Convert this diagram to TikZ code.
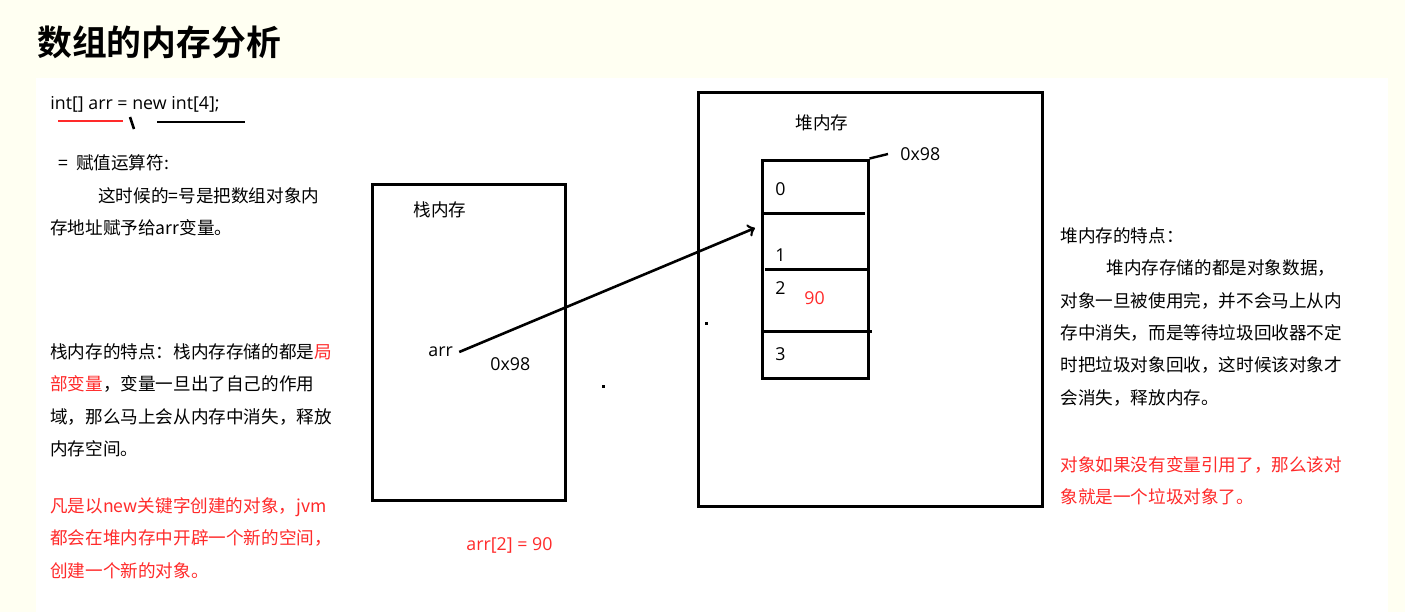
\documentclass[tikz,border=0pt]{standalone}
\usepackage{xcolor}
\usepackage{fontspec}
\setmainfont{Noto Sans CJK SC}[BoldFont={Noto Sans CJK SC Bold}]
\newfontfamily\latinfont{Open Sans}
\usetikzlibrary{arrows, positioning}
\definecolor{pagecream}{HTML}{FFFFF2}
\definecolor{notered}{HTML}{FF2A2A}
\tikzstyle{arrow}   = [line width=1.3pt,->,>=to]
\tikzstyle{membox}  = [draw, line width=1.5pt, inner sep=0pt]
\tikzstyle{divider} = [line width=1.5pt]
\tikzstyle{txt}     = [anchor=north west, inner sep=0pt, align=left, font=\fontsize{8.8}{16.2}\selectfont]
\tikzstyle{lbl}     = [anchor=west, inner sep=0pt, font=\fontsize{8.8}{10}\selectfont]
\tikzstyle{code}    = [anchor=west, inner sep=0pt, font=\latinfont\fontsize{8.9}{10}\selectfont]

\begin{document}
\begin{tikzpicture}[x=0.5pt, y=-0.5pt]
    \useasboundingbox (0,0) rectangle (1405,612);
    \fill [pagecream] (0,0) rectangle (1405,612);
    \fill [white] (36,78) rectangle (1388,612);

    % title
    \node (title) at (37,42) [anchor=west, inner sep=0pt, font=\fontsize{17.4}{20}\bfseries] {数组的内存分析};

    % statement and notes
    \node (stmt) at (50,104) [code] {int[] arr = new int[4];};
    \draw [notered, line width=1.2pt] (58,121) -- (123,121);
    \draw [line width=1.2pt] (157,122) -- (245,122);
    \draw [line width=1.3pt] (130,117) -- (134,129);
    \node (assign) at (58,163) [lbl] {=\ \ 赋值运算符:};
    \node (assignnote) at (50,187) [txt] {\hspace*{24pt}这时候的=号是把数组对象内\\存地址赋予给arr变量。};

    \node (stacknote) at (50,343) [txt]
          {栈内存的特点：栈内存存储的都是\textcolor{notered}{局}\\
           \textcolor{notered}{部变量}，变量一旦出了自己的作用\\
           域，那么马上会从内存中消失，释放\\
           内存空间。};
    \node (newnote) at (50,497) [txt, text=notered]
          {凡是以new关键字创建的对象，jvm\\
           都会在堆内存中开辟一个新的空间，\\
           创建一个新的对象。};

    % stack
    \node (stack) at (468.5,342) [membox, minimum width=96.5pt, minimum height=158pt] {};
    \node (stacklbl) at (413,210) [lbl] {栈内存};
    \node (arr) at (428,352) [code] {arr};
    \node (val) at (490,364) [code] {0x98};
    \node (assign2) at (466,545) [code, text=notered] {arr[2] = 90};
    \fill (601.5,384.5) rectangle (604.5,387.5);

    % heap
    \node (heap) at (870,299) [membox, minimum width=172pt, minimum height=207pt] {};
    \node (heaplbl) at (795,123) [lbl] {堆内存};
    \node (cells) at (815,269) [membox, minimum width=53pt, minimum height=109pt] {};
    \draw [divider] (762,213) -- (865,213);
    \draw [divider] (765,269) -- (868,269);
    \draw [divider] (762,331) -- (872,331);
    \node (c0) at (775,189) [code] {0};
    \node (c1) at (775,255) [code] {1};
    \node (c2) at (775,288) [code] {2};
    \node (c2v) at (804,298) [code, text=notered] {90};
    \node (c3) at (775,354) [code] {3};
    \node (addr) at (900,154) [code] {0x98};
    \draw [line width=1.2pt] (cells.north east) -- ([xshift=-6pt]addr.west);
    \fill (704.5,321.5) rectangle (707.5,324.5);

    % reference
    \coordinate (tip) at (755,228);
    \draw [arrow] ([xshift=3pt]arr.east) -- (tip);

    \node (heapnote) at (1060,227) [txt]
          {堆内存的特点：\\
           \hspace*{23pt}堆内存存储的都是对象数据，\\
           对象一旦被使用完，并不会马上从内\\
           存中消失，而是等待垃圾回收器不定\\
           时把垃圾对象回收，这时候该对象才\\
           会消失，释放内存。};
    \node (garbage) at (1060,456) [txt, text=notered]
          {对象如果没有变量引用了，那么该对\\
           象就是一个垃圾对象了。};
\end{tikzpicture}
\end{document}
